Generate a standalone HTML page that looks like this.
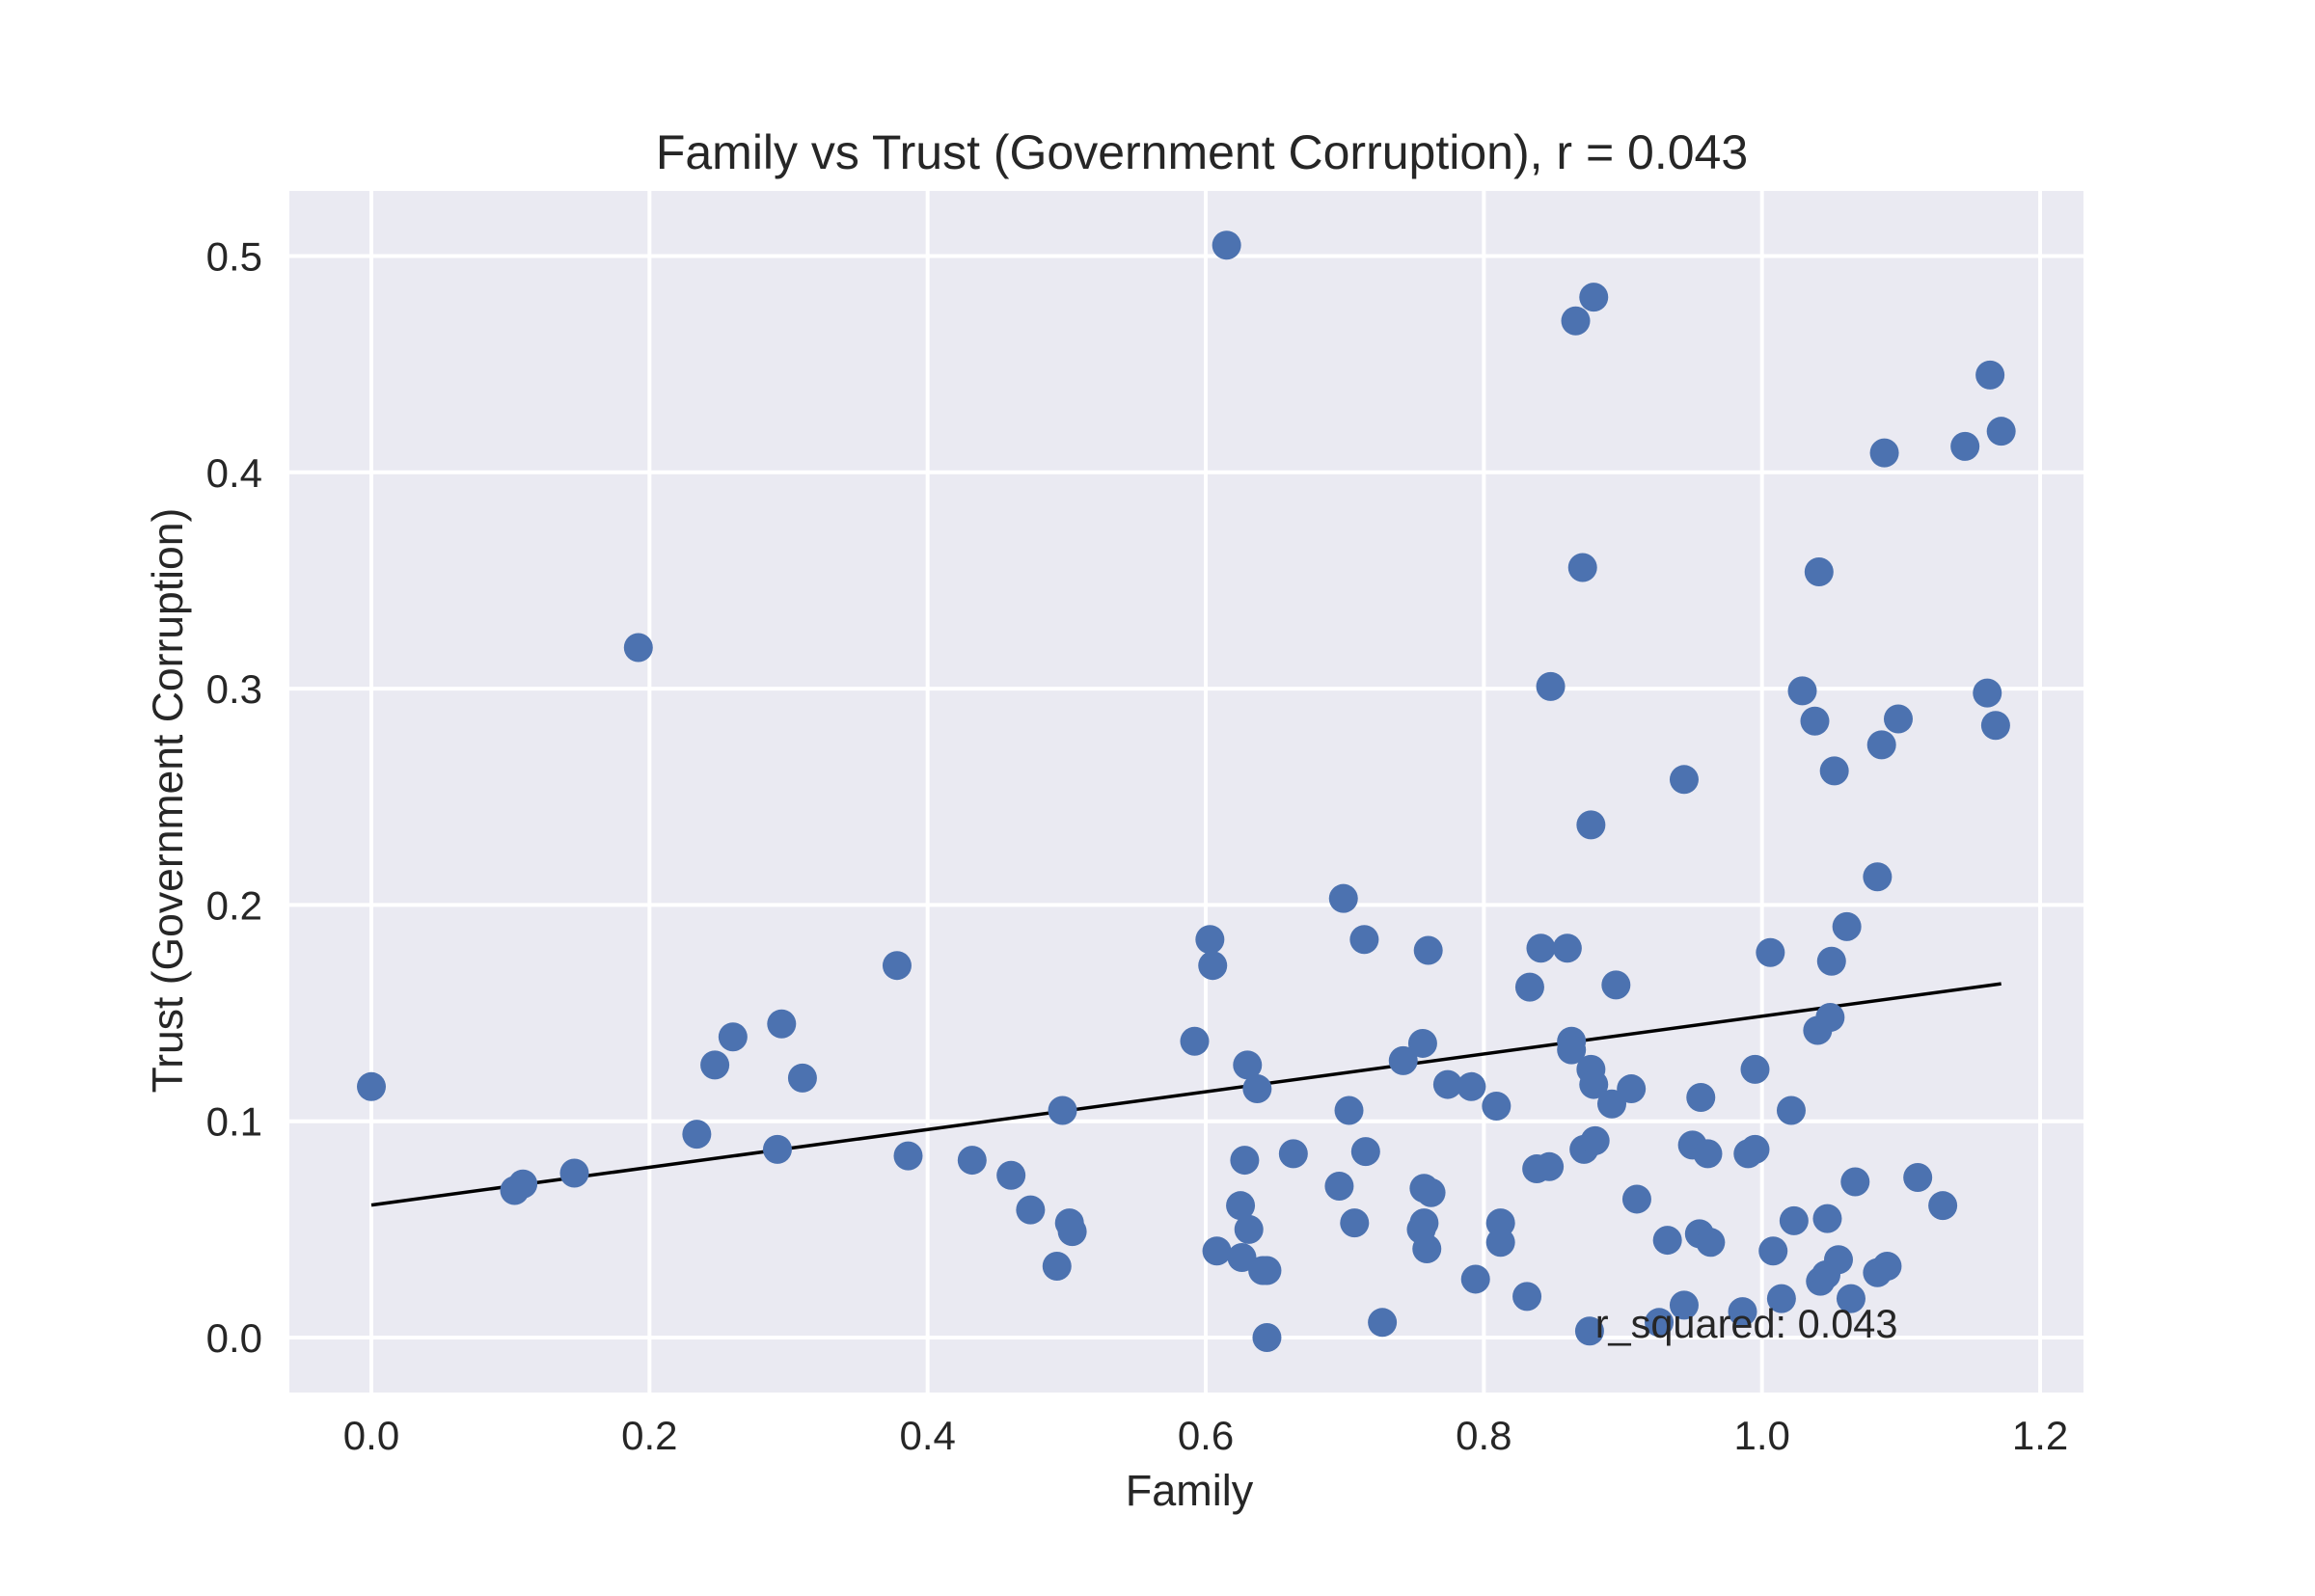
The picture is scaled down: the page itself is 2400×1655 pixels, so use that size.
<!DOCTYPE html>
<html><head><meta charset="utf-8"><style>
html,body{margin:0;padding:0;background:#fff;}
svg text{font-family:"Liberation Sans",Arial,sans-serif;fill:#262626;}
</style></head><body>
<svg id="chart" width="2400" height="1650" viewBox="0 0 2400 1650" xmlns="http://www.w3.org/2000/svg">
<rect x="0" y="0" width="2400" height="1650" fill="#fff"/>
<rect x="300" y="198" width="1860" height="1246" fill="#eaeaf2"/>
<g id="grid"></g>
<g id="ticks"></g>
<g id="fit"></g>
<g id="points"></g>
<text x="1246" y="175" font-size="50" text-anchor="middle">Family vs Trust (Government Corruption), r = 0.043</text>
<text x="1233" y="1561" font-size="45" text-anchor="middle">Family</text>
<text transform="translate(189,830) rotate(-90)" font-size="44.5" text-anchor="middle">Trust (Government Corruption)</text>
<text id="rsq" font-size="41.5">r_squared: 0.043</text>
</svg>
<script>
const familyValues=[0,.103,.109,.146,.192,.234,.247,.260,.292,.295,.310,.378,.386,.432,.460,.474,.493,.497,.502,.504,.592,.603,.605,.608,.615,.625,.626,.628,.630,.631,.637,.641,.644,.644,.663,.696,.699,.703,.707,.714,.715,.727,.742,.755,.756,.757,.757,.759,.760,.762,.774,.791,.794,.809,.812,.812,.831,.833,.838,.841,.847,.848,.860,.863,.863,.866,.871,.872,.877,.877,.879,.879,.880,.876,.892,.895,.906,.910,.926,.932,.944,.944,.950,.956,.955,.961,.963,.986,.990,.995,.995,1.006,1.008,1.014,1.021,1.023,1.029,1.038,1.040,1.041,1.042,1.046,1.047,1.049,1.050,1.052,1.055,1.061,1.064,1.067,1.083,1.083,1.086,1.088,1.090,1.098,1.112,1.130,1.146,1.162,1.164,1.168,1.172];
const trustValues=[.116,.068,.071,.076,.319,.094,.126,.139,.087,.145,.120,.172,.084,.082,.075,.059,.033,.105,.053,.049,.137,.184,.172,.040,.505,.061,.037,.082,.126,.050,.115,.031,.031,0,.085,.070,.203,.105,.053,.184,.086,.007,.128,.050,.136,.053,.069,.041,.179,.067,.117,.116,.027,.107,.053,.044,.019,.162,.078,.180,.079,.301,.180,.137,.133,.470,.356,.087,.124,.237,.117,.481,.091,.003,.108,.163,.115,.064,.007,.045,.258,.015,.089,.111,.048,.085,.044,.012,.085,.124,.087,.178,.040,.018,.105,.054,.299,.285,.142,.354,.026,.029,.055,.148,.174,.262,.036,.190,.018,.072,.213,.030,.274,.409,.033,.286,.074,.061,.412,.298,.445,.283,.419];
const xTicks=[0,0.2,0.4,0.6,0.8,1.0,1.2];
const yTicks=[0,0.1,0.2,0.3,0.4,0.5];
const xTickLabels=["0.0","0.2","0.4","0.6","0.8","1.0","1.2"];
const yTickLabels=["0.0","0.1","0.2","0.3","0.4","0.5"];
const NS="http://www.w3.org/2000/svg";
const sx=v=>385+v*1441.7;
const sy=v=>1387-v*2243;
function mk(tag,attrs,parent){const e=document.createElementNS(NS,tag);for(const k in attrs)e.setAttribute(k,attrs[k]);parent.appendChild(e);return e;}
const grid=document.getElementById('grid'),ticks=document.getElementById('ticks');
xTicks.forEach((t,i)=>{
  const l=mk('line',{x1:sx(t),x2:sx(t),y1:198,y2:1444,stroke:'#fff','stroke-width':4},grid);
  
  
  const tx=mk('text',{x:sx(t),y:1503,'font-size':42,'text-anchor':'middle'},ticks);
  tx.textContent=xTickLabels[i];
  
  
});
yTicks.forEach((t,i)=>{
  const l=mk('line',{x1:300,x2:2160,y1:sy(t),y2:sy(t),stroke:'#fff','stroke-width':4},grid);
  
  
  const tx=mk('text',{x:272,y:sy(t)+15,'font-size':42,'text-anchor':'end'},ticks);
  tx.textContent=yTickLabels[i];
  
  
});
const pts=document.getElementById('points');
familyValues.forEach((x,i)=>{
  const c=mk('circle',{cx:sx(x),cy:sy(trustValues[i]),r:15,fill:'#4c72b0'},pts);
  
  
});
const n=familyValues.length;
const mx=familyValues.reduce((a,b)=>a+b,0)/n,my=trustValues.reduce((a,b)=>a+b,0)/n;
let sxy=0,sxx=0;for(let i=0;i<n;i++){sxy+=(familyValues[i]-mx)*(trustValues[i]-my);sxx+=(familyValues[i]-mx)**2;}
const slope=sxy/sxx,icpt=my-slope*mx;
const x0=Math.min(...familyValues),x1=Math.max(...familyValues);
const fl=mk('line',{x1:sx(x0),y1:sy(icpt+slope*x0),x2:sx(x1),y2:sy(icpt+slope*x1),stroke:'#000','stroke-width':3.5},document.getElementById('fit'));


const rs=document.getElementById('rsq');
rs.setAttribute('x',sx(0.88));rs.setAttribute('y',sy(0));
</script>
</body></html>
